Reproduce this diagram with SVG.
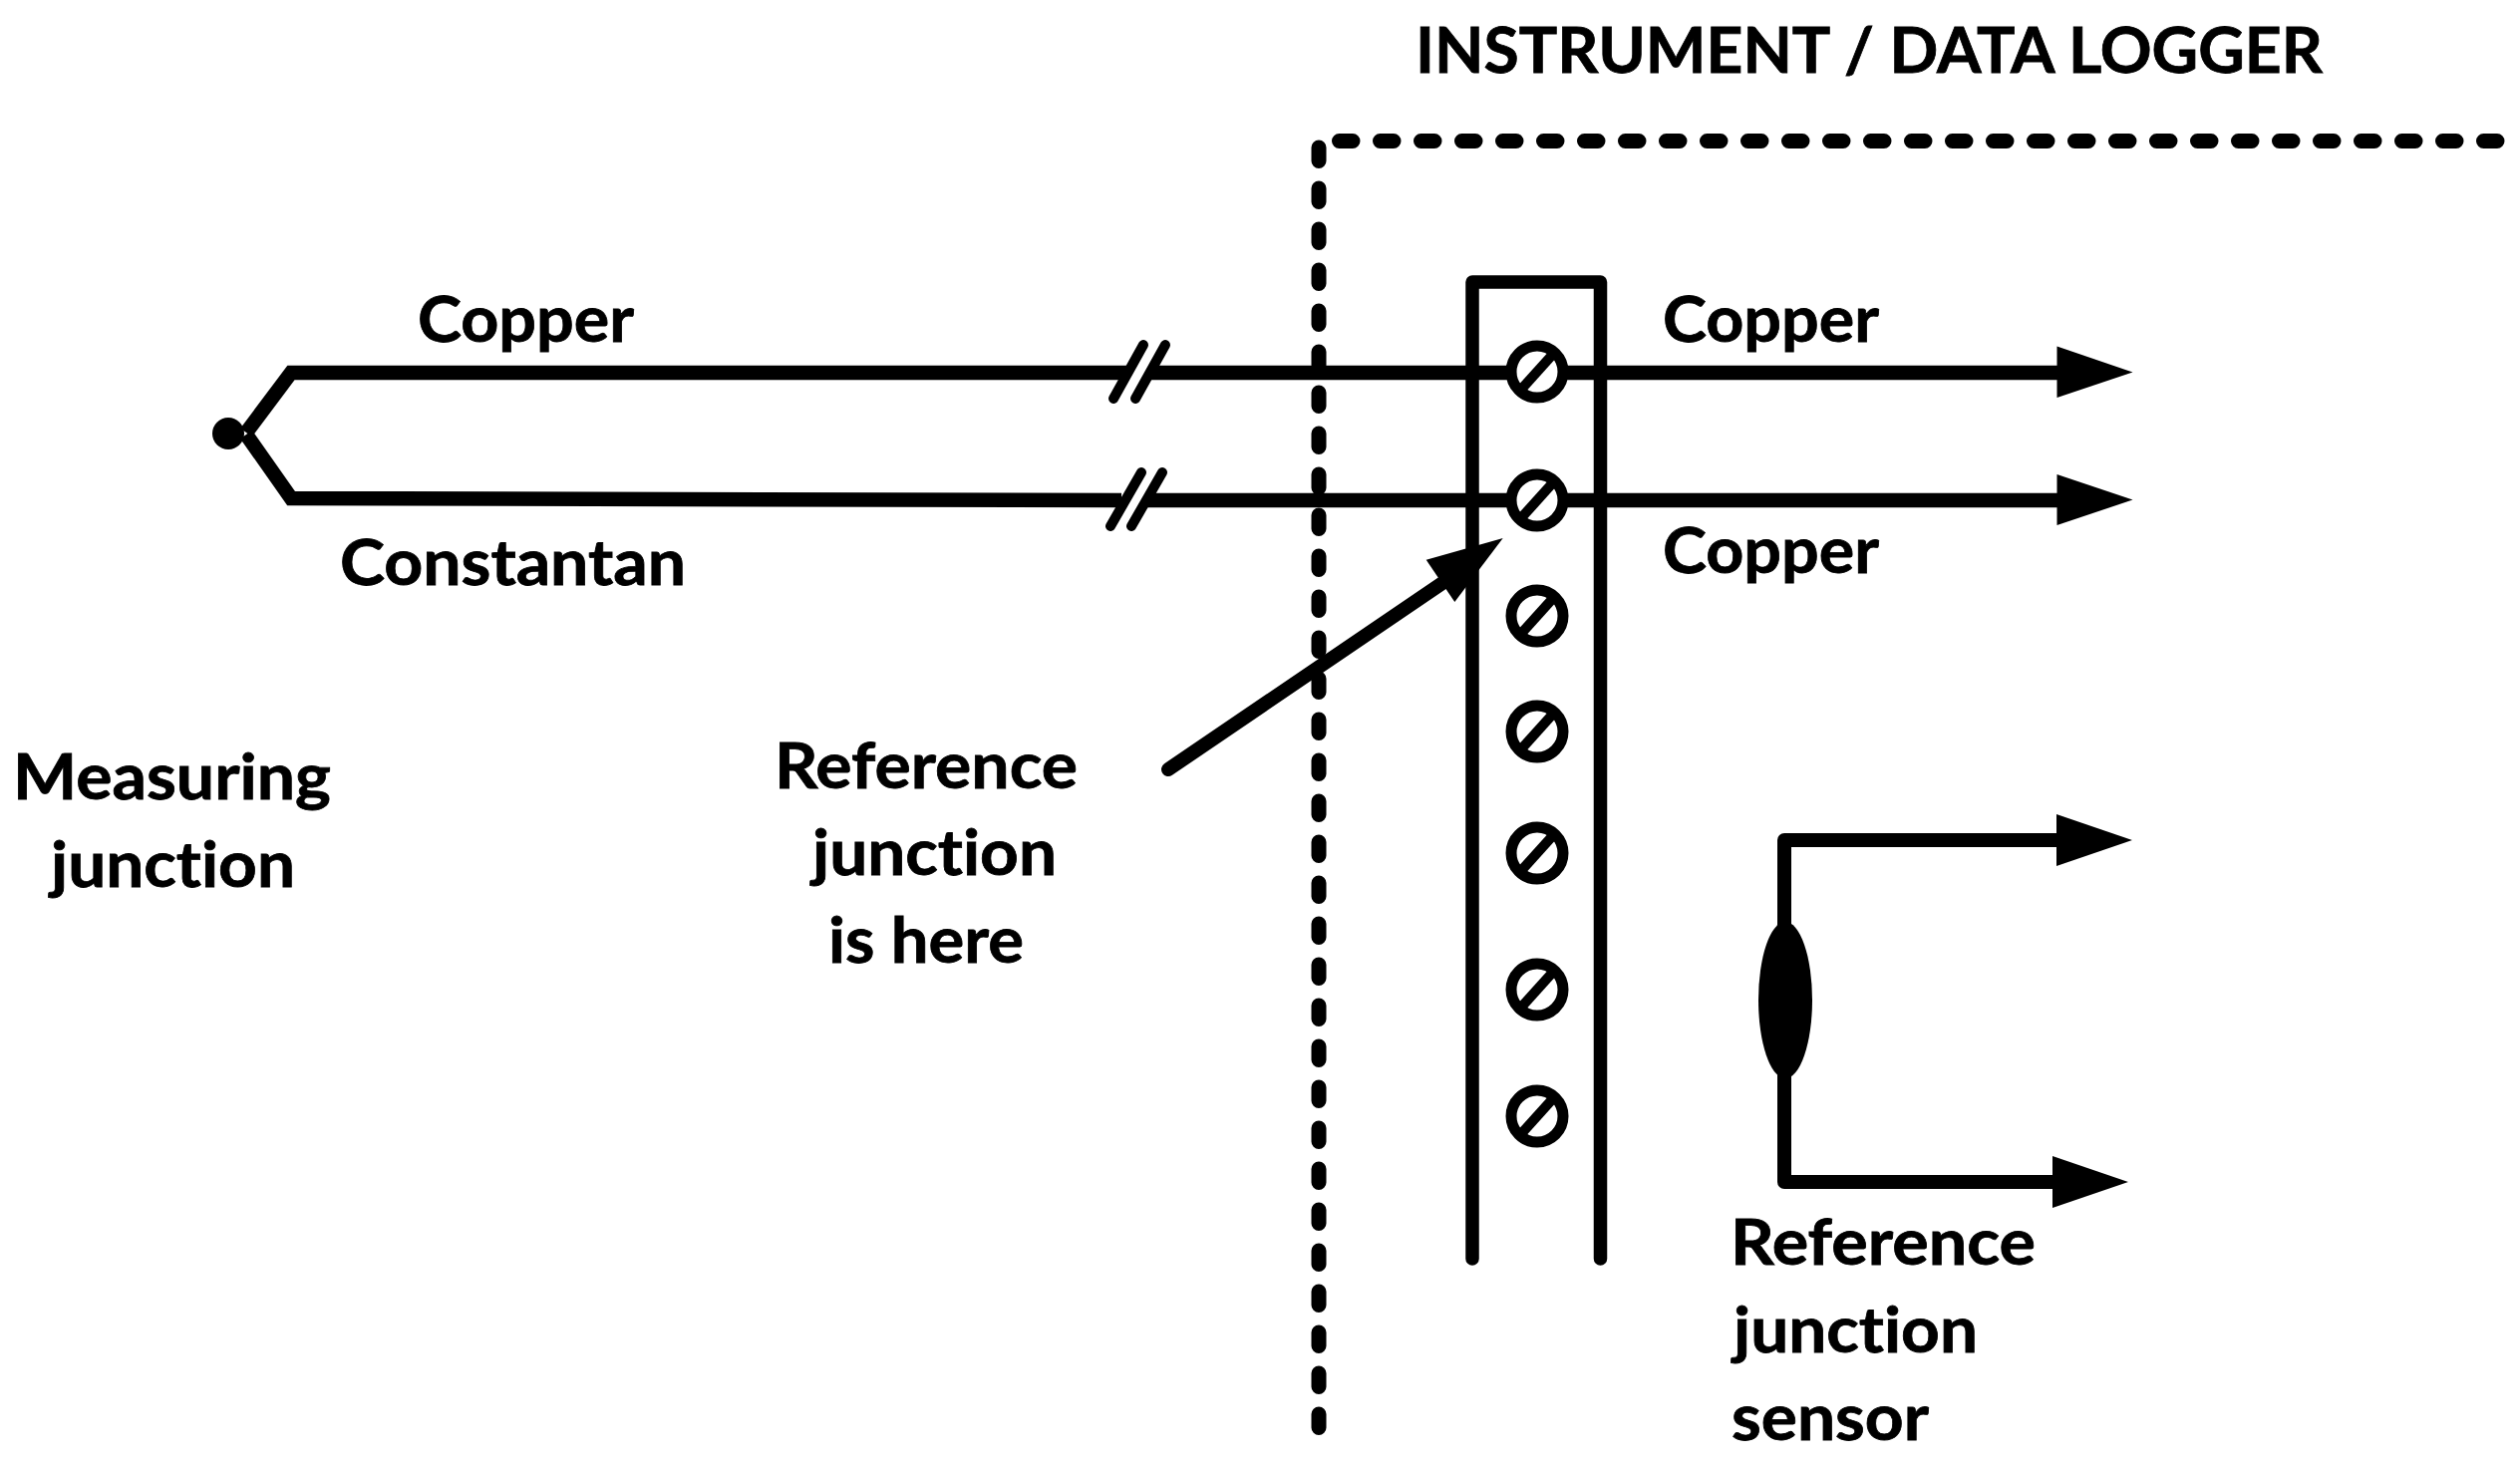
<svg xmlns="http://www.w3.org/2000/svg" width="2528" height="1470" viewBox="0 0 2528 1470">
  <style>
    text { font-family: "Lato", "Noto Sans", "Liberation Sans", sans-serif; font-weight: 700; font-size: 64px; fill: #000; stroke: #000; stroke-width: 0.8; font-variant-ligatures: none; }
    .w { fill: none; stroke: #000; stroke-width: 14.5; stroke-linejoin: miter; }
    .r { fill: none; stroke: #000; stroke-width: 14; stroke-linecap: round; stroke-linejoin: round; }
    .b { fill: none; stroke: #000; stroke-width: 10; stroke-linecap: round; }
    .d { fill: none; stroke: #000; stroke-width: 15; stroke-linecap: round; stroke-dasharray: 13.5 27.5; }
    .ring { fill: #fff; stroke: #000; stroke-width: 11; }
    .slash { fill: none; stroke: #000; stroke-width: 10; }
  </style>
  <defs>
    <g id="screw">
      <circle cx="0" cy="0" r="26" class="ring"/>
      <line x1="-18" y1="20" x2="18" y2="-20" class="slash"/>
    </g>
  </defs>
  <rect width="2528" height="1470" fill="#fff"/>

  <g id="connectors">
    <path id="boundary-top" class="d" d="M1343.5 141.5H2528"/>
    <path id="boundary-left" class="d" d="M1323 148V1436"/>
    <path id="wire-copper-left" class="w" d="M1130 374H292L247 434"/>
    <path id="wire-constantan-left" class="w" d="M1125 502L292 500L247 436"/>
    <path id="break-top" class="b" d="M1147 346L1117 400M1169 346L1139 400"/>
    <path id="break-bottom" class="b" d="M1145 474L1114 528M1166 474L1135 528"/>
    <path id="wire-copper-top" class="w" d="M1155 374H2070"/>
    <path id="wire-copper-bottom" class="w" d="M1150 502H2070"/>
    <polygon id="arrow-top" points="2063.5,347.5 2139.5,373.5 2063.5,399"/>
    <polygon id="arrow-bottom" points="2063.5,476 2139.5,501.5 2063.5,527"/>
    <path id="pointer-line" class="r" d="M1172 772L1450 583"/>
    <polygon id="pointer-head" points="1507.7,540 1430.7,561.7 1459.3,604"/>
    <path id="sensor-wire" class="r" d="M2070 843H1790V1186H2070"/>
    <polygon id="sensor-arrow-top" points="2063,817 2139,843 2063,869"/>
    <polygon id="sensor-arrow-bottom" points="2059,1160 2135,1186 2059,1212"/>
  </g>

  <g id="terminal-block">
    <path class="r" style="stroke-width:13.5" d="M1477 1263V283H1605.5V1263"/>
  </g>
  <g id="terminals">
    <use href="#screw" x="1542" y="373"/>
    <use href="#screw" x="1542" y="502"/>
    <use href="#screw" x="1542" y="618"/>
    <use href="#screw" x="1542" y="734"/>
    <use href="#screw" x="1542" y="856"/>
    <use href="#screw" x="1542" y="993"/>
    <use href="#screw" x="1542" y="1120"/>
  </g>
  <g id="measuring-junction"><circle cx="229" cy="435" r="16"/></g>
  <g id="sensor"><ellipse cx="1791" cy="1003.5" rx="27" ry="78.5"/></g>

  <g id="labels">
    <text x="1420" y="73" textLength="910" lengthAdjust="spacingAndGlyphs">INSTRUMENT / DATA LOGGER</text>
    <text x="419" y="343" textLength="217" lengthAdjust="spacingAndGlyphs">Copper</text>
    <text x="341" y="587" textLength="347" lengthAdjust="spacingAndGlyphs">Constantan</text>
    <text x="1668" y="343" textLength="217" lengthAdjust="spacingAndGlyphs">Copper</text>
    <text x="1668" y="575" textLength="217" lengthAdjust="spacingAndGlyphs">Copper</text>
    <text x="13" y="802" textLength="319" lengthAdjust="spacingAndGlyphs">Measuring</text>
    <text x="51" y="890" textLength="245" lengthAdjust="spacingAndGlyphs">junction</text>
    <text x="777" y="791" textLength="304" lengthAdjust="spacingAndGlyphs">Reference</text>
    <text x="815" y="878" textLength="245" lengthAdjust="spacingAndGlyphs">junction</text>
    <text x="831" y="966" textLength="196" lengthAdjust="spacingAndGlyphs">is here</text>
    <text x="1736" y="1269" textLength="306" lengthAdjust="spacingAndGlyphs">Reference</text>
    <text x="1739" y="1357" textLength="245" lengthAdjust="spacingAndGlyphs">junction</text>
    <text x="1737" y="1445" textLength="198" lengthAdjust="spacingAndGlyphs">sensor</text>
  </g>
</svg>
